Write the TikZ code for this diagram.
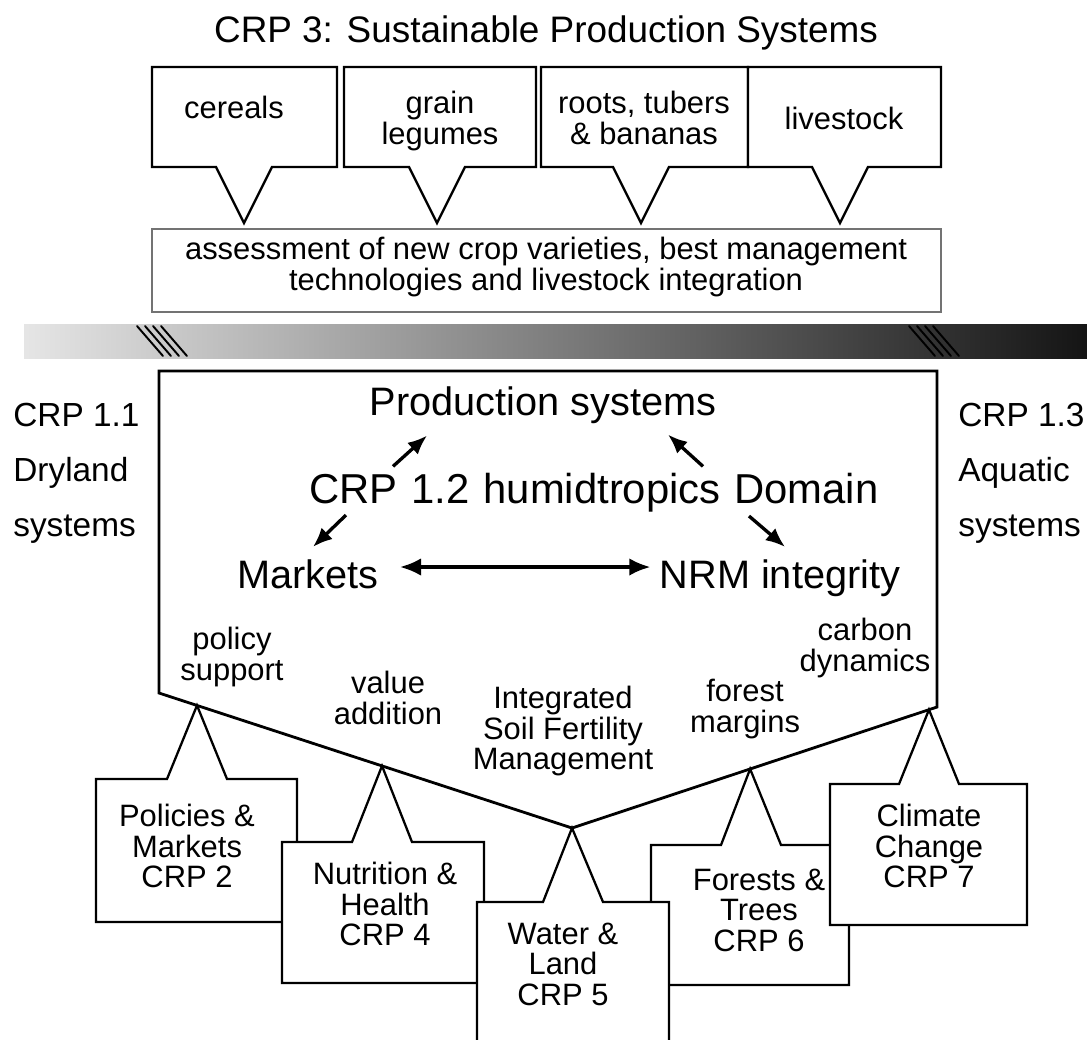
\documentclass[tikz,border=0pt]{standalone}
\usepackage{fontspec}
\setmainfont{Liberation Sans}
\usetikzlibrary{arrows,arrows.meta,calc}
\tikzset{callbox/.style={draw, line width=1.3pt, fill=white, line join=miter}}
\tikzset{lbl/.style={inner sep=0, align=center, font=\fontsize{17.6}{17.4}\selectfont}}
\tikzset{big/.style={inner sep=0, font=\fontsize{22.6}{26}\selectfont}}
\tikzset{side/.style={inner sep=0, align=left, anchor=west, font=\fontsize{19}{31.3}\selectfont}}
\tikzset{arr/.style={draw, -{Latex[length=11pt,width=9pt]}, line width=1.9pt}}
\tikzset{hatch/.style={draw, line width=1.1pt, line cap=round}}
\newcommand\widesp{\spaceskip=0.33em\relax}
\newcommand\downcall[3]{% box from #1 to #2, tip at #3
		\draw[callbox] (#1,67) -- (#1,167) -- (#3-28,167) -- (#3,223) -- (#3+28,167) -- (#2,167) -- (#2,67) -- cycle;
	}
\newcommand\upcall[6]{% left, top, right, bottom, tip x, apex
		\draw[callbox] (#1,#4) -- (#1,#2) -- (#5-30,#2) -- (#6) -- (#5+30,#2) -- (#3,#2) -- (#3,#4) -- cycle;
	}

\begin{document}
\begin{tikzpicture}[x=0.02cm, y=-0.02cm]
	\clip (0,0) rectangle (1087,1039);
	\fill[white] (0,0) rectangle (1087,1039);

	\node[inner sep=0, font=\fontsize{21}{24}\selectfont] (title) at (546,33) {CRP 3: Sustainable Production Systems};

	% commodity callouts
	\downcall{152}{337}{244}
	\downcall{344}{536}{437}
	\downcall{541}{748}{641}
	\downcall{748}{941}{840}
	\node[lbl] (cereals) at (234,107) {cereals};
	\node[lbl] (legumes) at (440,121) {grain\\legumes};
	\node[lbl] (roots) at (644,118) {roots, tubers\\\& bananas};
	\node[lbl] (livestock) at (844,118) {livestock};

	\draw[black!55, line width=0.6pt] (152,229) rectangle (941,312);
	\node[lbl] (assess) at (546,267) {assessment of new crop varieties, best management\\technologies and livestock integration};

	% gradient bar
	\shade[left color=black!10, right color=black!92] (24,324) rectangle (1087,358);
	\foreach \hx in {137,145,153,161} \draw[hatch] (\hx,326) -- ++(26,30);
	\foreach \hx in {909,917,925,933} \draw[hatch] (\hx,326) -- ++(26,30);

	% domain
	\coordinate (pl) at (159,693);
	\coordinate (pv) at (572,828);
	\coordinate (pr) at (937,707);
	\draw[line width=1.6pt, line join=miter] (159,371) -- (937,371) -- (pr) -- (pv) -- (pl) -- cycle;

	\node[side] (crp11) at (13,473) {CRP 1.1\\Dryland\\systems};
	\node[side] (crp13) at (958,473) {CRP 1.3\\Aquatic\\systems};

	\node[big, anchor=base] (prod) at (543,415) {Production systems};
	\node[big, anchor=base, font=\fontsize{23.8}{28}\selectfont] (dom) at (594,503) {\widesp CRP 1.2 humidtropics Domain};
	\node[big, anchor=base] (mkt) at (308,588) {Markets};
	\node[big, anchor=base] (nrm) at (780,588) {NRM integrity};

	\draw[arr] ([shift={(-201,-6)}]dom.north) -- ([shift={(-116,12)}]prod.south);
	\draw[arr] ([shift={(109,-6)}]dom.north) -- ([shift={(125,11)}]prod.south);
	\draw[arr] ([shift={(-248,3)}]dom.south) -- ([shift={(5,-12)}]mkt.north);
	\draw[arr] ([shift={(155,4)}]dom.south) -- ([shift={(5,-12)}]nrm.north);
	\draw[arr, {Latex[length=12pt,width=10pt]}-{Latex[length=12pt,width=10pt]}] ([shift={(21,-21)}]mkt.base east) -- ([shift={(-9,-21)}]nrm.base west);

	\node[lbl] (policy) at (232,657) {policy\\support};
	\node[lbl] (value) at (388,698) {value\\addition};
	\node[lbl] (isfm) at (563,731) {Integrated\\Soil Fertility\\Management};
	\node[lbl] (forest) at (745,709) {forest\\margins};
	\node[lbl] (carbon) at (865,648) {carbon\\dynamics};

	% CRP callouts, back to front
	\coordinate (a2) at ($(pl)!0.092!(pv)$);
	\coordinate (a4) at ($(pl)!0.54!(pv)$);
	\coordinate (a6) at ($(pv)!0.488!(pr)$);
	\coordinate (a7) at ($(pv)!0.978!(pr)$);

	\upcall{96}{779}{297}{922}{197}{a2}
	\node[lbl] (crp2) at (187,846) {Policies \&\\Markets\\CRP 2};
	\upcall{282}{842}{484}{983}{382}{a4}
	\node[lbl] (crp4) at (385,904) {Nutrition \&\\Health\\CRP 4};
	\upcall{651}{845}{849}{985}{751}{a6}
	\node[lbl] (crp6) at (759,910) {Forests \&\\Trees\\CRP 6};
	\upcall{830}{784}{1027}{925}{929}{a7}
	\node[lbl] (crp7) at (929,846) {Climate\\Change\\CRP 7};
	\upcall{477}{902}{669}{1060}{573}{pv}
	\node[lbl] (crp5) at (563,964) {Water \&\\Land\\CRP 5};
\end{tikzpicture}
\end{document}
